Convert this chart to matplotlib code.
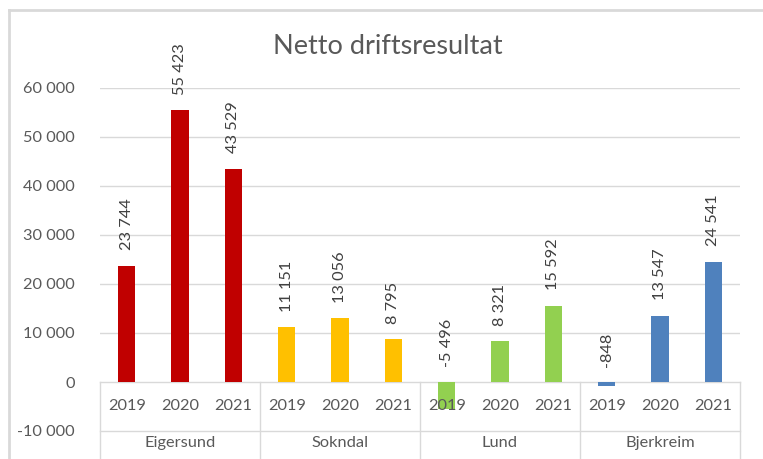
import matplotlib
matplotlib.use("Agg")
import matplotlib.pyplot as plt
from matplotlib.lines import Line2D

# ─── DATA ──────────────────────────────────────────────────────────────────
municipalities = ["Eigersund", "Sokndal", "Lund", "Bjerkreim"]
years          = ["2019", "2020", "2021"]
values = {
    "Eigersund": [23744, 55423, 43529],
    "Sokndal":   [11151, 13056, 8795],
    "Lund":      [-5496, 8321, 15592],
    "Bjerkreim": [-848, 13547, 24541],
}
colors = {
    "Eigersund": "#C00000",
    "Sokndal":   "#FFC000",
    "Lund":      "#92D050",
    "Bjerkreim": "#4F81BD",
}
yticks = [-10000, 0, 10000, 20000, 30000, 40000, 50000, 60000]

TXT  = "#595959"
GRID = "#D9D9D9"
plt.rcParams["font.family"] = ["Lato", "DejaVu Sans"]


def fmt(v):
    return f"{v:,}".replace(",", " ")


W, H = 763, 459
fig = plt.figure(figsize=(W / 100, H / 100), dpi=100)
ax = fig.add_axes([100 / W, 1 - 431 / H, 640 / W, (431 - 88) / H])

n_years = len(years)
pos = 0
for m in municipalities:
    for v in values[m]:
        ax.bar(pos, v, width=0.32, color=colors[m], zorder=2)
        ax.annotate(fmt(v), (pos, max(v, 0)), xytext=(0, 11),
                    textcoords="offset points", rotation=90,
                    ha="center", va="bottom", fontsize=11.8, color="#404040")
        pos += 1
n = pos

ax.set_xlim(-0.5, n - 0.5)
ax.set_ylim(-10000, 60000)
ax.set_yticks(yticks)
ax.set_yticklabels([fmt(t) for t in yticks], fontsize=11.8, color=TXT)
ax.tick_params(axis="y", length=0, pad=18)
ax.set_xticks([])
for s in ax.spines.values():
    s.set_visible(False)

# gridlines above zero
for t in yticks:
    if t > 0:
        ax.axhline(t, color=GRID, lw=1, zorder=0)

# category table below the zero line
xt = ax.get_xaxis_transform()
zero_frac = 10000 / 70000
ax.plot([-0.5, n - 0.5], [zero_frac, zero_frac], transform=xt,
        color=GRID, lw=1, clip_on=False, zorder=1)
ax.plot([-0.5, n - 0.5], [0, 0], transform=xt,
        color=GRID, lw=1, clip_on=False, zorder=1)
for k in range(len(municipalities) + 1):
    xb = k * n_years - 0.5
    ax.plot([xb, xb], [zero_frac, -0.12], transform=xt,
            color=GRID, lw=1, clip_on=False, zorder=1)

pos = 0
for m in municipalities:
    for y in years:
        ax.text(pos, -5000, y, ha="center", va="center",
                fontsize=11.8, color=TXT, zorder=3)
        pos += 1
    ax.text(pos - (n_years + 1) / 2, -12450, m, ha="center", va="center",
            fontsize=11.8, color=TXT, zorder=3)

fig.text(388 / W, 1 - 46 / H, "Netto driftsresultat", ha="center",
         va="center", fontsize=19.5, color=TXT)

# chart frame
fig.add_artist(Line2D([9 / W, 9 / W], [0, 1 - 10 / H], color=GRID, lw=2,
                      transform=fig.transFigure))
fig.add_artist(Line2D([9 / W, 1], [1 - 10 / H, 1 - 10 / H], color=GRID, lw=2,
                      transform=fig.transFigure))

fig.savefig("out.png", dpi=100)
